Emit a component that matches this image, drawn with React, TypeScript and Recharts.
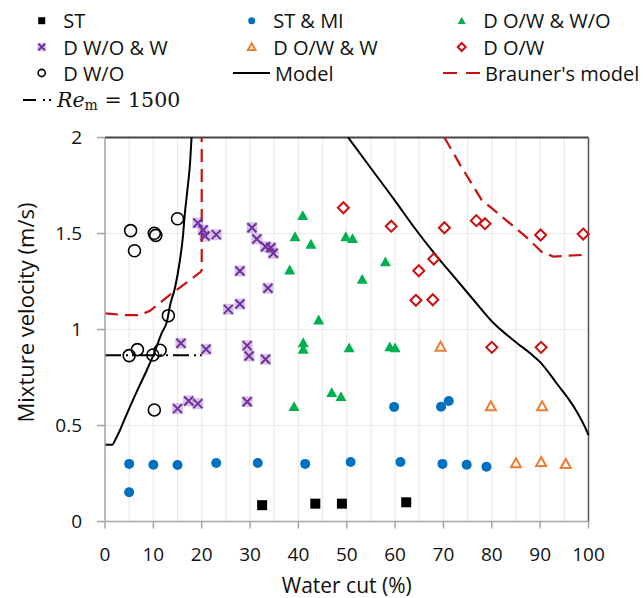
import React from "react";
import {
  CartesianGrid,
  ComposedChart,
  Line,
  ReferenceLine,
  Scatter,
  XAxis,
  YAxis,
} from "recharts";

// Mapa de padrões de escoamento: velocidade de mistura x fração de água.
type Pt = [number, number];

const ST: Pt[] = [[32.5, 0.085], [43.5, 0.093], [49, 0.093], [62.3, 0.1]];
const ST_MI: Pt[] = [
  [5, 0.152], [5, 0.3], [10, 0.296], [15, 0.294], [23, 0.305], [31.6, 0.305],
  [41.4, 0.3], [50.8, 0.31], [61.1, 0.31], [69.8, 0.3], [74.8, 0.296],
  [78.9, 0.285], [59.8, 0.597], [69.5, 0.598], [71.1, 0.628],
];
const D_OW_WO: Pt[] = [
  [40.9, 1.593], [39.3, 1.483], [42.6, 1.444], [49.8, 1.483], [51.2, 1.473],
  [38.2, 1.31], [58, 1.352], [53.2, 1.261], [44.2, 1.049], [41, 0.931],
  [41, 0.897], [50.5, 0.904], [58.9, 0.909], [60, 0.904], [46.9, 0.671],
  [48.8, 0.65], [39.1, 0.598],
];
const D_WO_W: Pt[] = [
  [19.2, 1.555], [20.3, 1.518], [20.7, 1.487], [23, 1.494], [30.4, 1.53],
  [31.4, 1.471], [33.2, 1.431], [34.3, 1.426], [34.8, 1.397], [27.9, 1.305],
  [33.7, 1.215], [27.9, 1.133], [25.5, 1.105], [15.7, 0.928], [20.9, 0.897],
  [29.4, 0.916], [29.8, 0.862], [33.2, 0.845], [15, 0.588], [17.3, 0.628],
  [19.2, 0.614], [29.4, 0.624],
];
const D_OW_W: Pt[] = [
  [69.4, 0.91], [79.8, 0.6], [90.4, 0.6], [85, 0.303], [90.2, 0.31], [95.3, 0.3],
];
const D_OW: Pt[] = [
  [49.3, 1.634], [59.2, 1.538], [70.2, 1.53], [76.8, 1.567], [78.6, 1.551],
  [68, 1.367], [64.9, 1.306], [64.3, 1.152], [67.8, 1.155], [90.1, 1.492],
  [98.9, 1.497], [80, 0.907], [90.2, 0.907],
];
const D_WO: Pt[] = [
  [5.3, 1.515], [6.1, 1.41], [10.2, 1.501], [10.5, 1.49], [15, 1.577],
  [13.1, 1.072], [5, 0.864], [6.7, 0.895], [9.9, 0.867], [11.4, 0.892],
  [10.2, 0.581],
];

// Curvas do modelo (dois ramos) e de Brauner (dois ramos)
const MODELO_ESQ: Pt[] = [
  [0, 0.4], [1.5, 0.4], [2.2, 0.43], [3, 0.47], [4, 0.53], [5.2, 0.6],
  [7, 0.7], [8.5, 0.78], [10, 0.866], [11.7, 0.98], [12.9, 1.05],
  [13.4, 1.12], [14.5, 1.22], [15.4, 1.345], [16.1, 1.48], [16.5, 1.6],
  [17.1, 1.74], [17.6, 1.87], [17.9, 2.0],
];
const MODELO_DIR: Pt[] = [
  [50.3, 2.0], [55, 1.84], [60, 1.67], [64, 1.53], [68, 1.4], [72, 1.28],
  [76.2, 1.155], [80.3, 1.035], [85.2, 0.93], [88, 0.875], [90, 0.83],
  [93.4, 0.72], [96.9, 0.6], [99.3, 0.49], [100, 0.45],
];
const BRAUNER_ESQ: Pt[] = [
  [0, 1.084], [4, 1.075], [7.2, 1.075], [9.3, 1.097], [13.4, 1.18],
  [17.6, 1.258], [19.8, 1.3], [20, 1.31], [20, 2.0],
];
const BRAUNER_DIR: Pt[] = [
  [70.2, 2.0], [73.4, 1.86], [77.9, 1.675], [79.6, 1.64], [87.2, 1.48],
  [90.3, 1.405], [92.7, 1.38], [100, 1.39],
];
const RE_1500: Pt[] = [[0, 0.866], [20, 0.866]];

const X_TICKS = [0, 5, 10, 15, 20, 25, 30, 35, 40, 45, 50, 55, 60, 65, 70, 75, 80, 85, 90, 95, 100];
const Y_TICKS = [0, 0.5, 1, 1.5, 2];

const FONTE = "'Open Sans', sans-serif";
const CINZA_EIXO = "#A6A6A6";
const AZUL = "#0070C0";
const VERDE = "#00B050";
const ROXO = "#7030A0";
const LARANJA = "#ED7D31";
const VERMELHO = "#CC1010";

const pts = (a: Pt[]) => a.map(([x, y]) => ({ x, y }));

// ---- marcadores (s = meia largura) ----
type M = { cx: number; cy: number; s: number };

const Quadrado = ({ cx, cy, s }: M) => (
  <rect x={cx - s} y={cy - s} width={2 * s} height={2 * s} fill="#000" />
);
const Bola = ({ cx, cy, s }: M) => <circle cx={cx} cy={cy} r={s} fill={AZUL} />;
const TriCheio = ({ cx, cy, s }: M) => (
  <polygon
    points={`${cx},${cy - s} ${cx + s},${cy + s * 0.8} ${cx - s},${cy + s * 0.8}`}
    fill={VERDE}
  />
);
const TriVazado = ({ cx, cy, s }: M) => (
  <polygon
    points={`${cx},${cy - s} ${cx + s},${cy + s * 0.8} ${cx - s},${cy + s * 0.8}`}
    fill="none"
    stroke={LARANJA}
    strokeWidth={2}
    strokeLinejoin="miter"
  />
);
const Xis = ({ cx, cy, s }: M) => (
  <g>
    <rect x={cx - s - 1} y={cy - s - 1} width={2 * s + 2} height={2 * s + 2} fill={ROXO} opacity={0.28} />
    <path
      d={`M${cx - s},${cy - s}L${cx + s},${cy + s}M${cx - s},${cy + s}L${cx + s},${cy - s}`}
      stroke={ROXO}
      strokeWidth={2}
    />
  </g>
);
const Losango = ({ cx, cy, s }: M) => (
  <polygon
    points={`${cx},${cy - s} ${cx + s},${cy} ${cx},${cy + s} ${cx - s},${cy}`}
    fill="none"
    stroke={VERMELHO}
    strokeWidth={2}
  />
);
const Anel = ({ cx, cy, s }: M) => (
  <circle cx={cx} cy={cy} r={s} fill="none" stroke="#000" strokeWidth={1.6} />
);

const SERIES = [
  { nome: "ST", dados: ST, Marca: Quadrado, s: 5 },
  { nome: "ST & MI", dados: ST_MI, Marca: Bola, s: 5 },
  { nome: "D O/W & W/O", dados: D_OW_WO, Marca: TriCheio, s: 5.5 },
  { nome: "D W/O & W", dados: D_WO_W, Marca: Xis, s: 4.5 },
  { nome: "D O/W & W", dados: D_OW_W, Marca: TriVazado, s: 5 },
  { nome: "D O/W", dados: D_OW, Marca: Losango, s: 5.5 },
  { nome: "D W/O", dados: D_WO, Marca: Anel, s: 6 },
];

function XTick({ x, y, payload }: any) {
  if (payload.value % 10 !== 0) return null;
  return (
    <g>
      <line x1={x} x2={x} y1={y} y2={y + 7} stroke={CINZA_EIXO} strokeWidth={1.5} />
      <text x={x} y={y + 32} textAnchor="middle" dominantBaseline="central" fontSize={19} fontFamily={FONTE} fill="#111">
        {payload.value}
      </text>
    </g>
  );
}

function TituloY({ viewBox }: any) {
  const cx = viewBox.x + 20;
  const cy = viewBox.y + viewBox.height / 2 - 17;
  return (
    <text
      x={cx}
      y={cy}
      transform={`rotate(-90, ${cx}, ${cy})`}
      textAnchor="middle"
      dominantBaseline="central"
      fontSize={22}
      fontFamily={FONTE}
      fill="#111"
    >
      Mixture velocity (m/s)
    </text>
  );
}

function TituloX({ viewBox }: any) {
  return (
    <text
      x={viewBox.x + viewBox.width / 2}
      y={viewBox.y + 63}
      textAnchor="middle"
      dominantBaseline="central"
      fontSize={21}
      fontFamily={FONTE}
      fill="#111"
    >
      Water cut (%)
    </text>
  );
}

// Legenda em 3 colunas por cima do gráfico
function Legenda() {
  const colM = [41.7, 251.7, 461.7];
  const linhas = [20.7, 47, 73, 100];
  const texto = (x: number, y: number, t: string) => (
    <text x={x} y={y} dominantBaseline="central" fontSize={20} fontFamily={FONTE} fill="#111">
      {t}
    </text>
  );
  const pequenos = [3.5, 3.5, 4, 3.3, 3.8, 4, 3.6];
  return (
    <svg width={643} height={120} style={{ position: "absolute", left: 0, top: 0 }}>
      {SERIES.map((s, i) => {
        const cx = colM[i % 3];
        const cy = linhas[Math.floor(i / 3)];
        return (
          <g key={s.nome}>
            <s.Marca cx={cx} cy={cy} s={pequenos[i]} />
            {texto(cx + 21.5, cy, s.nome)}
          </g>
        );
      })}
      <line x1={233} x2={270} y1={73} y2={73} stroke="#000" strokeWidth={2} />
      {texto(275, 73, "Model")}
      <line x1={443} x2={480} y1={73} y2={73} stroke={VERMELHO} strokeWidth={2.2} strokeDasharray="14 9" />
      {texto(485, 73, "Brauner's model")}
      <line x1={23} x2={53} y1={100} y2={100} stroke="#000" strokeWidth={2} strokeDasharray="13 7 2 4 2 20" />
      <text x={57} y={100} dominantBaseline="central" fontSize={20.5} fontFamily="'DejaVu Serif', serif" fill="#111">
        <tspan fontStyle="italic">Re</tspan>
        <tspan fontSize={14} dy={5}>m</tspan>
        <tspan dy={-5}> = 1500</tspan>
      </text>
    </svg>
  );
}

export default function App() {
  return (
    <div style={{ position: "absolute", left: 0, top: 0, width: 643, height: 598, background: "#fff" }}>
      <ComposedChart
        width={643}
        height={598}
        margin={{ top: 137.5, right: 54.5, bottom: 20.5, left: 5 }}
      >
        <CartesianGrid stroke="#EBEBEB" strokeWidth={1.2} />
        <XAxis
          type="number"
          dataKey="x"
          domain={[0, 100]}
          ticks={X_TICKS}
          interval={0}
          height={56}
          tickSize={0}
          tickMargin={0}
          tick={<XTick />}
          tickLine={false}
          axisLine={{ stroke: CINZA_EIXO, strokeWidth: 1.5 }}
          label={<TituloX />}
        />
        <YAxis
          type="number"
          dataKey="y"
          domain={[0, 2]}
          ticks={Y_TICKS}
          interval={0}
          width={100}
          tickSize={8}
          tickMargin={15}
          tickLine={{ stroke: CINZA_EIXO, strokeWidth: 1.5 }}
          axisLine={{ stroke: CINZA_EIXO, strokeWidth: 1.5 }}
          tick={{ fontSize: 19, fontFamily: FONTE, fill: "#111" }}
          label={<TituloY />}
        />
        <ReferenceLine y={2} stroke="#444" strokeWidth={2} />
        <ReferenceLine x={100} stroke="#555" strokeWidth={1.5} />

        <Line data={pts(RE_1500)} dataKey="y" type="linear" stroke="#000" strokeWidth={2} strokeDasharray="16 5 2 4 2 5" dot={false} activeDot={false} isAnimationActive={false} />
        <Line data={pts(BRAUNER_ESQ)} dataKey="y" type="linear" stroke={VERMELHO} strokeWidth={2.2} strokeDasharray="13 7" dot={false} activeDot={false} isAnimationActive={false} />
        <Line data={pts(BRAUNER_DIR)} dataKey="y" type="linear" stroke={VERMELHO} strokeWidth={2.2} strokeDasharray="13 7" dot={false} activeDot={false} isAnimationActive={false} />
        <Line data={pts(MODELO_ESQ)} dataKey="y" type="monotone" stroke="#000" strokeWidth={2} dot={false} activeDot={false} isAnimationActive={false} />
        <Line data={pts(MODELO_DIR)} dataKey="y" type="monotone" stroke="#000" strokeWidth={2} dot={false} activeDot={false} isAnimationActive={false} />

        {SERIES.map((s) => (
          <Scatter
            key={s.nome}
            name={s.nome}
            data={pts(s.dados)}
            dataKey="y"
            isAnimationActive={false}
            shape={(p: any) => <s.Marca cx={p.cx} cy={p.cy} s={s.s} />}
          />
        ))}
      </ComposedChart>
      <Legenda />
    </div>
  );
}
